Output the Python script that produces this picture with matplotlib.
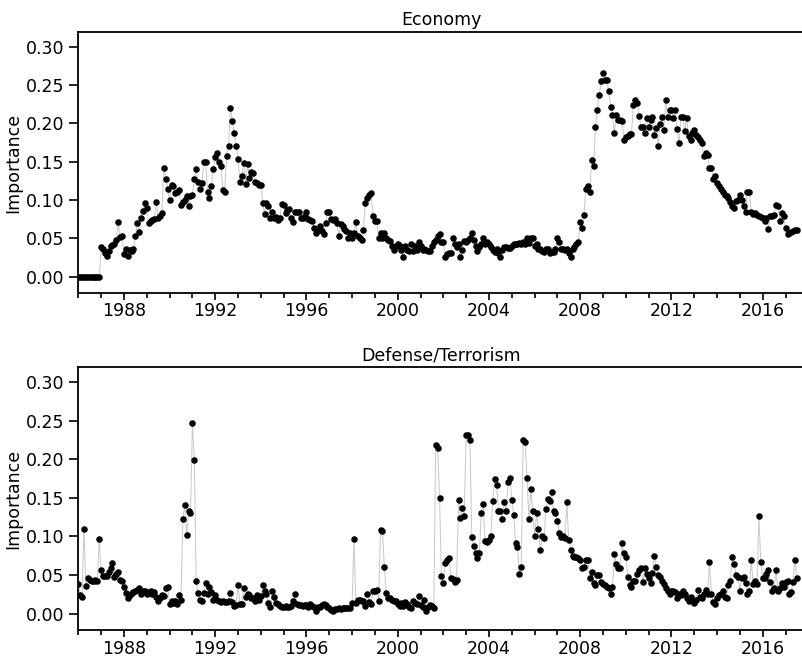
import pandas as pd
import matplotlib.pyplot as plt
import matplotlib.dates as mdates
from matplotlib.ticker import FormatStrFormatter

# monthly importance values, Jan 1986 - Jul 2017 (one row per year)
economy = [
    0.0, 0.0, 0.0, 0.0, 0.0, 0.0, 0.0, 0.0, 0.0, 0.0, 0.0, 0.0,  # 1986
    0.038, 0.036, 0.031, 0.027, 0.033, 0.040, 0.041, 0.042, 0.048, 0.071, 0.052, 0.053,
    0.029, 0.036, 0.027, 0.035, 0.034, 0.036, 0.053, 0.070, 0.058, 0.077, 0.086, 0.096,
    0.089, 0.070, 0.072, 0.074, 0.075, 0.097, 0.077, 0.079, 0.083, 0.142, 0.128, 0.115,
    0.100, 0.120, 0.118, 0.109, 0.111, 0.113, 0.094, 0.097, 0.100, 0.105, 0.092, 0.105,  # 1990
    0.107, 0.128, 0.140, 0.124, 0.115, 0.122, 0.150, 0.149, 0.110, 0.102, 0.118, 0.141,
    0.156, 0.161, 0.150, 0.144, 0.113, 0.111, 0.158, 0.170, 0.220, 0.203, 0.187, 0.170,
    0.153, 0.124, 0.131, 0.148, 0.121, 0.147, 0.129, 0.137, 0.135, 0.124, 0.122, 0.120,
    0.119, 0.096, 0.082, 0.096, 0.092, 0.077, 0.085, 0.077, 0.078, 0.074, 0.076, 0.095,
    0.093, 0.083, 0.087, 0.088, 0.077, 0.071, 0.084, 0.084, 0.085, 0.077, 0.077, 0.079,  # 1995
    0.084, 0.075, 0.074, 0.072, 0.064, 0.057, 0.061, 0.066, 0.059, 0.055, 0.070, 0.084,
    0.085, 0.075, 0.074, 0.075, 0.070, 0.053, 0.069, 0.066, 0.062, 0.059, 0.051, 0.057,
    0.051, 0.057, 0.071, 0.053, 0.051, 0.048, 0.061, 0.096, 0.102, 0.107, 0.109, 0.079,
    0.073, 0.072, 0.051, 0.057, 0.051, 0.057, 0.051, 0.048, 0.046, 0.040, 0.035, 0.040,
    0.042, 0.040, 0.035, 0.026, 0.040, 0.035, 0.033, 0.042, 0.033, 0.040, 0.035, 0.045,  # 2000
    0.040, 0.035, 0.036, 0.035, 0.033, 0.033, 0.040, 0.045, 0.048, 0.053, 0.056, 0.045,
    0.045, 0.026, 0.029, 0.031, 0.031, 0.051, 0.042, 0.038, 0.042, 0.025, 0.035, 0.046,
    0.045, 0.048, 0.050, 0.057, 0.048, 0.040, 0.033, 0.038, 0.043, 0.050, 0.042, 0.045,
    0.042, 0.038, 0.035, 0.032, 0.036, 0.031, 0.026, 0.035, 0.038, 0.038, 0.037, 0.037,
    0.040, 0.042, 0.043, 0.042, 0.044, 0.042, 0.045, 0.042, 0.051, 0.044, 0.051, 0.051,  # 2005
    0.040, 0.043, 0.036, 0.036, 0.033, 0.032, 0.036, 0.036, 0.031, 0.032, 0.032, 0.036,
    0.050, 0.045, 0.036, 0.036, 0.035, 0.036, 0.031, 0.026, 0.036, 0.038, 0.042, 0.045,
    0.071, 0.064, 0.081, 0.115, 0.118, 0.110, 0.152, 0.145, 0.195, 0.218, 0.237, 0.255,
    0.266, 0.257, 0.257, 0.242, 0.222, 0.211, 0.187, 0.211, 0.204, 0.204, 0.203, 0.178,
    0.182, 0.183, 0.186, 0.186, 0.224, 0.230, 0.227, 0.210, 0.196, 0.196, 0.187, 0.207,  # 2010
    0.195, 0.205, 0.208, 0.185, 0.194, 0.170, 0.199, 0.208, 0.192, 0.230, 0.208, 0.218,
    0.218, 0.207, 0.217, 0.193, 0.174, 0.208, 0.208, 0.190, 0.207, 0.184, 0.178, 0.187,
    0.192, 0.185, 0.182, 0.178, 0.174, 0.157, 0.161, 0.159, 0.142, 0.142, 0.127, 0.132,
    0.122, 0.118, 0.115, 0.111, 0.107, 0.105, 0.102, 0.097, 0.092, 0.089, 0.099, 0.100,
    0.107, 0.100, 0.092, 0.084, 0.110, 0.111, 0.084, 0.082, 0.083, 0.081, 0.079, 0.078,  # 2015
    0.077, 0.072, 0.077, 0.062, 0.079, 0.079, 0.081, 0.094, 0.092, 0.072, 0.083, 0.079,
    0.064, 0.055, 0.057, 0.058, 0.059, 0.061, 0.061,  # 2017
]

defense = [
    0.038, 0.024, 0.022, 0.110, 0.036, 0.046, 0.044, 0.043, 0.043, 0.044, 0.043, 0.097,  # 1986
    0.056, 0.049, 0.049, 0.049, 0.054, 0.059, 0.066, 0.048, 0.052, 0.054, 0.044, 0.043,
    0.035, 0.027, 0.020, 0.024, 0.027, 0.028, 0.030, 0.031, 0.033, 0.026, 0.030, 0.029,
    0.026, 0.028, 0.030, 0.026, 0.028, 0.022, 0.017, 0.020, 0.024, 0.023, 0.033, 0.034,
    0.013, 0.017, 0.014, 0.017, 0.013, 0.024, 0.018, 0.123, 0.141, 0.102, 0.133, 0.130,  # 1990
    0.247, 0.199, 0.043, 0.027, 0.018, 0.017, 0.027, 0.040, 0.026, 0.035, 0.028, 0.018,
    0.024, 0.018, 0.017, 0.015, 0.017, 0.015, 0.015, 0.017, 0.027, 0.015, 0.010, 0.011,
    0.037, 0.013, 0.012, 0.033, 0.022, 0.026, 0.024, 0.021, 0.021, 0.017, 0.024, 0.018,
    0.023, 0.037, 0.030, 0.026, 0.014, 0.009, 0.030, 0.022, 0.014, 0.013, 0.010, 0.009,
    0.009, 0.010, 0.009, 0.009, 0.010, 0.017, 0.026, 0.013, 0.011, 0.011, 0.010, 0.011,  # 1995
    0.011, 0.009, 0.012, 0.010, 0.009, 0.004, 0.009, 0.009, 0.011, 0.012, 0.011, 0.009,
    0.008, 0.005, 0.003, 0.006, 0.006, 0.007, 0.006, 0.007, 0.007, 0.008, 0.008, 0.008,
    0.014, 0.097, 0.014, 0.018, 0.018, 0.016, 0.017, 0.010, 0.026, 0.015, 0.013, 0.030,
    0.030, 0.031, 0.017, 0.108, 0.107, 0.061, 0.027, 0.020, 0.020, 0.018, 0.017, 0.016,
    0.012, 0.010, 0.014, 0.010, 0.015, 0.013, 0.009, 0.008, 0.017, 0.014, 0.013, 0.023,  # 2000
    0.011, 0.009, 0.018, 0.004, 0.009, 0.011, 0.010, 0.008, 0.218, 0.214, 0.150, 0.049,
    0.040, 0.066, 0.070, 0.072, 0.046, 0.045, 0.041, 0.044, 0.147, 0.124, 0.137, 0.126,
    0.231, 0.231, 0.225, 0.099, 0.088, 0.078, 0.072, 0.079, 0.131, 0.142, 0.094, 0.093,
    0.096, 0.101, 0.146, 0.175, 0.167, 0.133, 0.133, 0.122, 0.144, 0.133, 0.170, 0.176,
    0.147, 0.128, 0.091, 0.087, 0.052, 0.061, 0.225, 0.222, 0.176, 0.122, 0.161, 0.133,  # 2005
    0.101, 0.130, 0.110, 0.083, 0.100, 0.098, 0.135, 0.149, 0.146, 0.157, 0.133, 0.131,
    0.120, 0.105, 0.099, 0.100, 0.098, 0.144, 0.096, 0.083, 0.075, 0.074, 0.073, 0.072,
    0.070, 0.059, 0.061, 0.070, 0.070, 0.046, 0.054, 0.040, 0.037, 0.050, 0.050, 0.041,
    0.039, 0.037, 0.035, 0.033, 0.026, 0.035, 0.077, 0.065, 0.059, 0.059, 0.091, 0.078,
    0.074, 0.048, 0.037, 0.034, 0.043, 0.043, 0.052, 0.057, 0.059, 0.041, 0.059, 0.052,  # 2010
    0.046, 0.040, 0.053, 0.075, 0.061, 0.050, 0.048, 0.043, 0.038, 0.033, 0.030, 0.026,
    0.030, 0.030, 0.028, 0.021, 0.026, 0.024, 0.030, 0.026, 0.020, 0.017, 0.022, 0.018,
    0.014, 0.018, 0.031, 0.022, 0.021, 0.026, 0.031, 0.026, 0.067, 0.026, 0.015, 0.013,
    0.021, 0.024, 0.026, 0.030, 0.022, 0.021, 0.037, 0.043, 0.073, 0.064, 0.050, 0.048,
    0.030, 0.046, 0.048, 0.040, 0.026, 0.030, 0.070, 0.038, 0.043, 0.038, 0.127, 0.067,  # 2015
    0.046, 0.046, 0.052, 0.056, 0.041, 0.030, 0.033, 0.057, 0.030, 0.033, 0.040, 0.034,
    0.041, 0.043, 0.026, 0.028, 0.041, 0.070, 0.046,  # 2017
]

titles = ['Economy', 'Defense/Terrorism']
yticks = [0.00, 0.05, 0.10, 0.15, 0.20, 0.25, 0.30]

dates = pd.date_range('1986-01-01', periods=len(economy), freq='MS')

plt.rcParams['font.family'] = 'DejaVu Sans'
fs = 12.5

fig = plt.figure(figsize=(8.03, 6.58), dpi=100)
ax1 = fig.add_axes([0.0976, 0.5552, 0.9034, 0.3957])
ax2 = fig.add_axes([0.0976, 0.0426, 0.9034, 0.3992])

for ax, series, title in zip([ax1, ax2], [economy, defense], titles):
    # thin grey connecting line with black dots on top
    ax.plot(dates, series, color='#c8c8c8', linewidth=0.7, zorder=1)
    ax.plot(dates, series, linestyle='none', marker='o', markersize=3.7,
            color='black', zorder=2)
    ax.set_title(title, fontsize=fs, pad=5)
    ax.set_ylabel('Importance', fontsize=fs, labelpad=3)
    ax.set_ylim(-0.021, 0.319)
    ax.set_yticks(yticks)
    ax.yaxis.set_major_formatter(FormatStrFormatter('%.2f'))
    ax.set_xlim(pd.Timestamp('1986-01-01'), pd.Timestamp('2017-10-20'))
    ax.xaxis.set_major_locator(mdates.YearLocator(4))
    ax.xaxis.set_minor_locator(mdates.YearLocator(1))
    ax.xaxis.set_major_formatter(mdates.DateFormatter('%Y'))
    ax.tick_params(axis='both', which='major', length=6.5, width=1.2, labelsize=fs)
    ax.tick_params(axis='x', which='minor', length=3.5, width=1.2)
    ax.tick_params(axis='x', which='major', length=5, pad=2)
    for s in ax.spines.values():
        s.set_linewidth(1.3)

fig.savefig('out.png', dpi=100)
